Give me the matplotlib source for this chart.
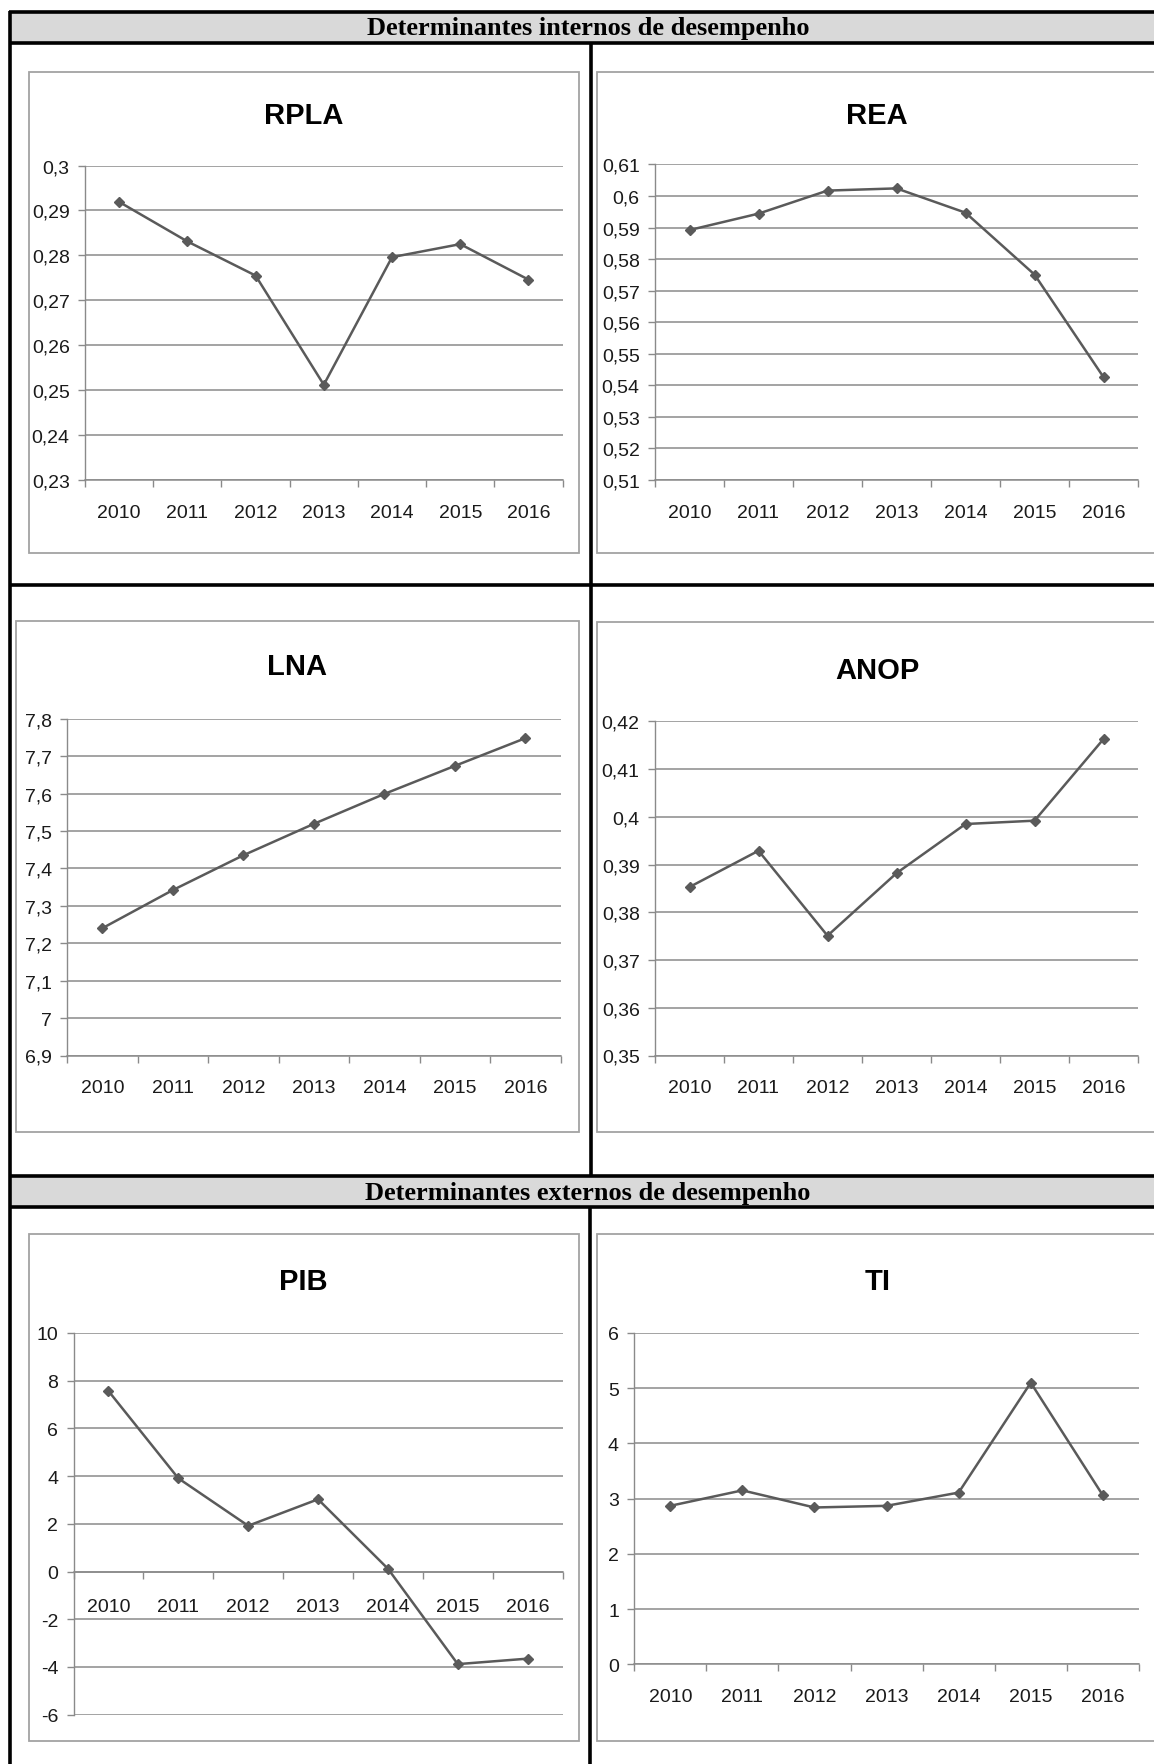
import numpy as np
import matplotlib
matplotlib.use("Agg")
import matplotlib.pyplot as plt
from matplotlib.patches import Rectangle
from matplotlib.lines import Line2D
from matplotlib.ticker import FuncFormatter

# ---------------- data ----------------
years = ["2010", "2011", "2012", "2013", "2014", "2015", "2016"]

rpla = [0.2919, 0.2831, 0.2755, 0.2512, 0.2796, 0.2825, 0.2746]
rea = [0.5892, 0.5944, 0.6017, 0.6024, 0.5947, 0.5751, 0.5426]
lna = [7.240, 7.342, 7.435, 7.519, 7.599, 7.674, 7.748]
anop = [0.3853, 0.3929, 0.3751, 0.3882, 0.3985, 0.3992, 0.4163]
pib = [7.57, 3.91, 1.92, 3.03, 0.12, -3.88, -3.65]
ti = [2.87, 3.15, 2.84, 2.87, 3.11, 5.10, 3.06]

rpla_ticks = [0.23, 0.24, 0.25, 0.26, 0.27, 0.28, 0.29, 0.30]
rea_ticks = [0.51, 0.52, 0.53, 0.54, 0.55, 0.56, 0.57, 0.58, 0.59, 0.60, 0.61]
lna_ticks = [6.9, 7.0, 7.1, 7.2, 7.3, 7.4, 7.5, 7.6, 7.7, 7.8]
anop_ticks = [0.35, 0.36, 0.37, 0.38, 0.39, 0.40, 0.41, 0.42]
pib_ticks = [-6, -4, -2, 0, 2, 4, 6, 8, 10]
ti_ticks = [0, 1, 2, 3, 4, 5, 6]

header_top = "Determinantes internos de desempenho"
header_bottom = "Determinantes externos de desempenho"

# ---------------- layout helpers ----------------
W, H = 1154, 1765
fig = plt.figure(figsize=(W / 100, H / 100), dpi=100)
fig.patch.set_facecolor("white")

SANS = ["Liberation Sans", "DejaVu Sans"]
SERIF = ["Liberation Serif", "DejaVu Serif"]


def fbox(x0, y0, x1, y1):
    return [x0 / W, 1 - y1 / H, (x1 - x0) / W, (y1 - y0) / H]


def hline(y, x0, x1, lw=2.6, color="black", z=5):
    fig.add_artist(Line2D([x0 / W, x1 / W], [1 - y / H, 1 - y / H],
                          transform=fig.transFigure, color=color, lw=lw,
                          zorder=z, solid_capstyle="butt"))


def vline(x, y0, y1, lw=2.6, color="black", z=5):
    fig.add_artist(Line2D([x / W, x / W], [1 - y0 / H, 1 - y1 / H],
                          transform=fig.transFigure, color=color, lw=lw,
                          zorder=z, solid_capstyle="butt"))


def chart_box(x0, y0, x1, y1):
    r = Rectangle((x0 / W, 1 - y1 / H), (x1 - x0) / W, (y1 - y0) / H,
                  transform=fig.transFigure, facecolor="white",
                  edgecolor="#a3a3a3", lw=1.3, zorder=0)
    fig.add_artist(r)


def fmt(v, _):
    return f"{round(v, 4):g}".replace(".", ",")


def make_chart(plot_rect, box_rect, title, title_y, values, ticks,
               axis_at_zero=False, xlab_pad=17):
    chart_box(*box_rect)
    bx0, by0, bx1, by1 = box_rect
    fig.text(((bx0 + bx1) / 2) / W, 1 - title_y / H, title,
             ha="center", va="center", fontsize=21, fontweight="bold",
             family=SANS, color="black")
    ax = fig.add_axes(fbox(*plot_rect))
    ax.set_facecolor("none")
    for s in ("top", "right"):
        ax.spines[s].set_visible(False)
    if axis_at_zero:
        ax.spines["bottom"].set_position(("data", 0))
    x = np.arange(len(years))
    ax.plot(x, values, color="#5a5a5a", lw=1.8, marker="D", ms=5.5,
            mfc="#5a5a5a", mec="#5a5a5a", zorder=3)
    ax.set_xlim(-0.5, len(years) - 0.5)
    ax.set_ylim(ticks[0], ticks[-1])
    ax.set_yticks(ticks)
    ax.yaxis.set_major_formatter(FuncFormatter(fmt))
    ax.yaxis.grid(True, color="#8a8a8a", lw=1.1)
    ax.set_axisbelow(True)
    ax.set_xticks(np.arange(-0.5, len(years), 1.0))
    ax.set_xticklabels([])
    ax.set_xticks(x, minor=True)
    ax.set_xticklabels(years, minor=True)
    ax.tick_params(axis="x", which="major", direction="out", length=5,
                   width=1.0, color="#8a8a8a")
    ax.tick_params(axis="x", which="minor", length=0, pad=xlab_pad,
                   labelsize=14, labelcolor="#1a1a1a", labelfontfamily=SANS)
    ax.tick_params(axis="y", direction="out", length=5, width=1.0,
                   color="#8a8a8a", pad=6, labelsize=14, labelcolor="#1a1a1a",
                   labelfontfamily=SANS)
    ax.spines["left"].set_color("#8a8a8a")
    ax.spines["bottom"].set_color("#8a8a8a")
    ax.spines["left"].set_linewidth(1.0)
    ax.spines["bottom"].set_linewidth(1.1)
    return ax


# ---------------- table frame ----------------
fig.add_artist(Rectangle((9 / W, 1 - 43.5 / H), (W - 9) / W, 30.5 / H,
                         transform=fig.transFigure, facecolor="#d9d9d9",
                         edgecolor="none", zorder=1))
fig.add_artist(Rectangle((9 / W, 1 - 1208 / H), (W - 9) / W, 31 / H,
                         transform=fig.transFigure, facecolor="#d9d9d9",
                         edgecolor="none", zorder=1))
hline(13, 9, W)
hline(43.5, 9, W)
hline(586, 9, W)
hline(1177, 9, W)
hline(1208, 9, W)
vline(10, 12, H)
vline(590.5, 43.5, 1177)
vline(589.5, 1208, H)

fig.text(588 / W, 1 - 29 / H, header_top, ha="center", va="center",
         fontsize=19, fontweight="bold", family=SERIF, zorder=6)
fig.text(588 / W, 1 - 1193.5 / H, header_bottom, ha="center", va="center",
         fontsize=19, fontweight="bold", family=SERIF, zorder=6)

# ---------------- charts ----------------
make_chart((85, 166.5, 562.6, 481), (28.7, 72.9, 578.6, 553.8),
           "RPLA", 116.5, rpla, rpla_ticks)
make_chart((655, 165.4, 1138, 481), (596.5, 72.9, 1158, 553.8),
           "REA", 116.5, rea, rea_ticks)
make_chart((67, 719.7, 560.7, 1056.5), (16.1, 622.1, 578.6, 1133),
           "LNA", 667.3, lna, lna_ticks)
make_chart((655, 722.4, 1138, 1056.5), (596.5, 622.9, 1158, 1133),
           "ANOP", 671, anop, anop_ticks)
make_chart((73.5, 1334, 562.6, 1715.7), (28.7, 1235.3, 578.6, 1742),
           "PIB", 1282, pib, pib_ticks, axis_at_zero=True, xlab_pad=19)
make_chart((634.2, 1334, 1138.9, 1665.3), (596.5, 1235.3, 1158, 1742),
           "TI", 1282, ti, ti_ticks)

fig.savefig("out.png", dpi=100, facecolor="white")
